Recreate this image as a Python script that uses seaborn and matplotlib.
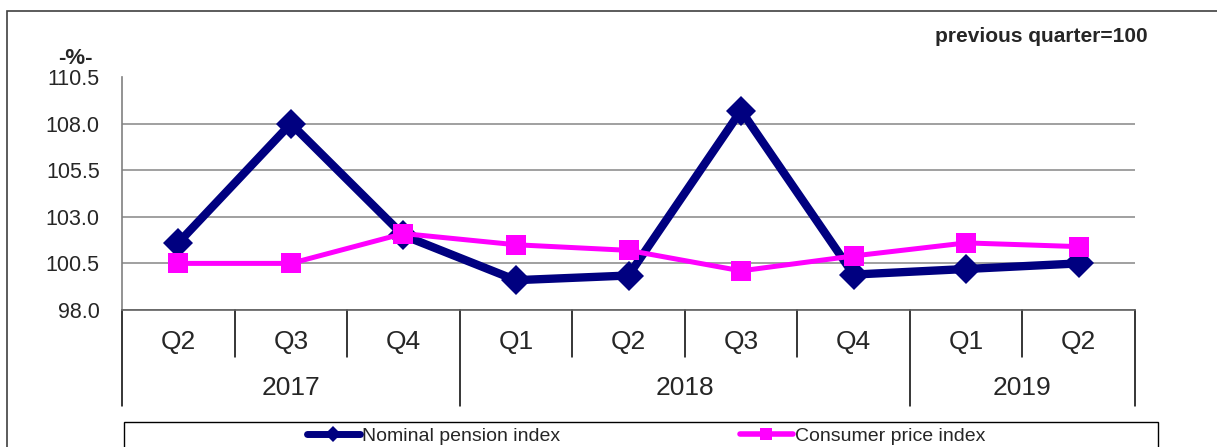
import numpy as np
import pandas as pd
import matplotlib
matplotlib.use('Agg')
import matplotlib.pyplot as plt
import matplotlib.transforms as mtransforms
from matplotlib.lines import Line2D
from matplotlib.patches import Rectangle
import seaborn as sns

sns.set_style("white")
plt.rcParams['font.family'] = ['Liberation Sans', 'DejaVu Sans']

# data
years = ['2017', '2017', '2017', '2018', '2018', '2018', '2018', '2019', '2019']
quarters = ['Q2', 'Q3', 'Q4', 'Q1', 'Q2', 'Q3', 'Q4', 'Q1', 'Q2']
pension = [101.6, 108.0, 102.0, 99.6, 99.85, 108.7, 99.9, 100.2, 100.5]
cpi = [100.5, 100.5, 102.1, 101.5, 101.2, 100.1, 100.9, 101.6, 101.4]
yticks = [98.0, 100.5, 103.0, 105.5, 108.0, 110.5]

NAVY = '#000080'
MAGENTA = '#FF00FF'

W, H = 1217, 447
fig = plt.figure(figsize=(W / 100, H / 100), dpi=100)
ax = fig.add_axes([122 / W, 1 - 310 / H, (1135 - 122) / W, (310 - 77) / H])
ax_h = 310 - 77  # axes height in px

df = pd.DataFrame({'pos': np.arange(len(quarters)), 'pension': pension, 'cpi': cpi})
sns.lineplot(data=df, x='pos', y='pension', ax=ax, color=NAVY, lw=6,
             marker='D', markersize=15, markeredgewidth=0)
sns.lineplot(data=df, x='pos', y='cpi', ax=ax, color=MAGENTA, lw=3.6,
             marker='s', markersize=14, markeredgewidth=0)

ax.set_xlim(-0.5, len(quarters) - 0.5)
ax.set_ylim(yticks[0], yticks[-1])
ax.set_yticks(yticks)
ax.set_yticklabels([f'{v:.1f}' for v in yticks])
ax.tick_params(axis='y', length=5, pad=11, labelsize=15.5, color='#808080', width=1)
ax.set_xticks([])
ax.set_xlabel('')
ax.set_ylabel('')
ax.yaxis.grid(True, color='#999999', lw=1.3)
ax.get_ygridlines()[-1].set_visible(False)
ax.set_axisbelow(True)
for s in ['top', 'right']:
    ax.spines[s].set_visible(False)
ax.spines['left'].set_color('#808080')
ax.spines['bottom'].set_color('#606060')
ax.spines['left'].set_linewidth(1.2)
ax.spines['bottom'].set_linewidth(1.2)

# two-level category axis
trans = mtransforms.blended_transform_factory(ax.transData, ax.transAxes)
short = -(357 - 310) / ax_h
long_ = -(406 - 310) / ax_h
n = len(quarters)
bounds = [(-0.5, long_)]
for i in range(n - 1):
    bounds.append((i + 0.5, long_ if years[i] != years[i + 1] else short))
bounds.append((n - 0.5, long_))
for x, y0 in bounds:
    ax.plot([x, x], [0, y0], color='black', lw=1.1, transform=trans, clip_on=False)

for i, q in enumerate(quarters):
    ax.text(i, -(342 - 310) / ax_h, q, transform=trans, ha='center', va='center',
            fontsize=19)
for yr in dict.fromkeys(years):
    idx = [i for i, y in enumerate(years) if y == yr]
    ax.text(np.mean(idx), -(388 - 310) / ax_h, yr, transform=trans,
            ha='center', va='center', fontsize=19)

# texts
fig.text(1148 / W, 1 - 36 / H, 'previous quarter=100', ha='right', va='center',
         fontweight='bold', fontsize=15)
fig.text(75 / W, 1 - 59 / H, '-%-', ha='center', va='center',
         fontweight='bold', fontsize=16)

# frames
fig.patches.append(Rectangle((7 / W, -0.1), 2, (1 - 11 / H) + 0.1, transform=fig.transFigure,
                             fill=False, ec='#404040', lw=1.2))
fig.patches.append(Rectangle((124 / W, -0.2), (1158 - 124) / W, (1 - 422 / H) + 0.2,
                             transform=fig.transFigure, fill=False, ec='black', lw=1))

# legend
h1 = Line2D([], [], color=NAVY, lw=5, marker='D', markersize=8, markeredgewidth=0)
h2 = Line2D([], [], color=MAGENTA, lw=4, marker='s', markersize=8, markeredgewidth=0)
for h, lab, x0 in [(h1, 'Nominal pension index', 307), (h2, 'Consumer price index', 740)]:
    fig.legend(handles=[h], labels=[lab], loc='center left', bbox_to_anchor=(x0 / W, 1 - 436 / H),
               frameon=False, handlelength=2.7, handletextpad=0.15, borderpad=0,
               borderaxespad=0, fontsize=14)

fig.savefig('out.png', dpi=100)
